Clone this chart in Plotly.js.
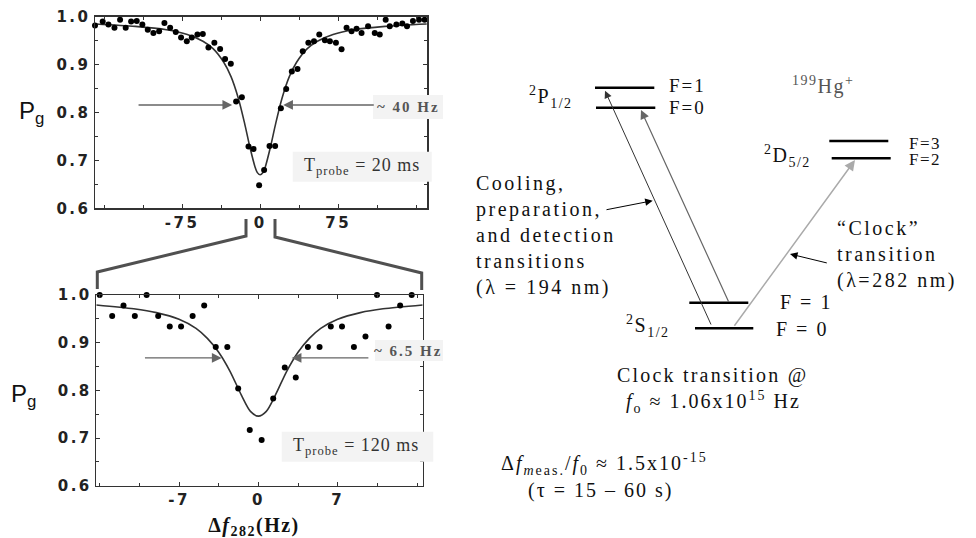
<!DOCTYPE html>
<html>
<head>
<meta charset="utf-8">
<script src="https://cdn.plot.ly/plotly-3.0.1.min.js"></script>
<style>
html,body{margin:0;padding:0;background:#fff;}
#chart{width:976px;height:538px;}
</style>
</head>
<body>
<div id="chart"></div>
<script>
// ---------- data: top panel (T_probe = 20 ms) ----------
const topDetuning = [-158.7,-151.3,-145.8,-140,-134.6,-129.2,-124,-118.6,-113.2,-108,-102.6,-97.1,-92,-86.5,-81.1,-76,-70.5,-65.7,-60.3,-55.1,-49.7,-44,-38.5,-33.7,-28.2,-23.1,-17.6,-11.2,-6.4,-1,3.8,9,14.4,19.9,25,30.4,35.9,40.9,46.3,51.7,56.8,62.2,67,72.8,78.2,83,87.8,92.6,97.4,103.7,110.1,114.9,120.6,124.5,130.9,136.6,141.1,146.8,152.6,158];
const topPg = [0.982,0.990,0.984,0.977,0.994,0.977,0.990,0.991,0.984,0.973,0.966,0.970,0.987,0.977,0.968,0.957,0.949,0.957,0.963,0.964,0.936,0.946,0.933,0.912,0.902,0.823,0.832,0.729,0.724,0.648,0.680,0.730,0.730,0.809,0.849,0.886,0.891,0.928,0.946,0.949,0.963,0.951,0.949,0.946,0.932,0.977,0.970,0.975,0.966,0.980,0.966,0.963,0.994,0.980,0.984,0.986,0.980,0.991,0.994,0.994];
const topFitX = [-158,-120,-90,-70,-55,-45,-35,-28,-21,-15,-10,-5,-2.5,0,2.5,5,10,15,21,28,35,45,55,70,90,120,160];
const topFitY = [0.985,0.980,0.973,0.963,0.949,0.933,0.905,0.875,0.830,0.778,0.729,0.687,0.674,0.670,0.674,0.687,0.729,0.778,0.830,0.875,0.905,0.933,0.949,0.963,0.973,0.980,0.985];
const topTickVals = [-75,0,75];
const topTickText = ['-75','0','75'];

// ---------- data: bottom panel (T_probe = 120 ms) ----------
const botDetuning = [-14.6,-14.0,-12.9,-11.9,-10.9,-9.86,-8.84,-7.82,-6.82,-5.80,-4.78,-3.76,-2.74,-1.78,-0.76,0.29,1.31,2.33,3.30,4.37,5.40,6.39,7.38,8.43,9.45,10.47,11.49,12.51,13.53];
const botPg = [0.949,1.0,0.956,0.978,0.956,1.0,0.956,0.934,0.934,0.956,0.978,0.891,0.891,0.804,0.717,0.696,0.783,0.848,0.827,0.891,0.891,0.934,0.934,0.891,0.913,1.0,0.934,0.978,1.0];
const botFitX = [-14.3,-11,-9,-7,-5.5,-4.5,-3.5,-2.5,-1.5,-0.7,0,0.7,1.5,2.5,3.5,4.5,5.5,7,9,11,14.5];
const botFitY = [0.979,0.971,0.963,0.949,0.930,0.909,0.880,0.840,0.790,0.756,0.746,0.756,0.790,0.840,0.880,0.909,0.930,0.949,0.963,0.971,0.979];
const botTickVals = [-7,0,7];
const botTickText = ['-7','0','7'];

const pgTickVals = [0.6,0.7,0.8,0.9,1.0];
const pgTickText = ['0.6','0.7','0.8','0.9','1.0'];

// ---------- data: 199Hg+ level diagram ----------
const levelNames  = ['2P1/2 F=1','2P1/2 F=0','2D5/2 F=3','2D5/2 F=2','2S1/2 F=1','2S1/2 F=0'];
const levelStart  = [595, 596, 829.3, 831.7, 689.3, 695];
const levelEnd    = [654.3, 655.3, 888.3, 890.7, 748.3, 753.3];
const levelHeight = [87.7, 107.7, 141, 158.3, 302.7, 328.3];

// ---------- build ----------
const SERIF = 'Liberation Serif, Times New Roman, serif';
const SANS = 'Liberation Sans, Arial, sans-serif';
const TICKFONT = {family:'DejaVu Sans, sans-serif', size:15, color:'#222', weight:'bold'};

const lvX = [], lvY = [];
levelNames.forEach((n,i)=>{ lvX.push(levelStart[i], levelEnd[i], null); lvY.push(levelHeight[i], levelHeight[i], null); });

const data = [
  {x: topFitX, y: topFitY, xaxis:'x', yaxis:'y', mode:'lines', line:{color:'#333', width:1.6, shape:'spline', smoothing:0.8}, hoverinfo:'skip'},
  {x: topDetuning, y: topPg, xaxis:'x', yaxis:'y', mode:'markers', marker:{color:'#000', size:6}, cliponaxis:false},
  {x: botFitX, y: botFitY, xaxis:'x2', yaxis:'y2', mode:'lines', line:{color:'#333', width:1.6, shape:'spline', smoothing:0.8}, hoverinfo:'skip'},
  {x: botDetuning, y: botPg, xaxis:'x2', yaxis:'y2', mode:'markers', marker:{color:'#000', size:6}, cliponaxis:false},
  {x: lvX, y: lvY, xaxis:'x3', yaxis:'y3', mode:'lines', line:{color:'#000', width:2.6}, connectgaps:false, text: levelNames, hoverinfo:'text'}
];

const anns = [], annLS = [];
function txt(text, x, y, opts, ls){
  anns.push(Object.assign({xref:'x3', yref:'y3', x:x, y:y, text:text, showarrow:false,
    xanchor:'left', yanchor:'middle', align:'left', borderpad:0,
    font:{family:SERIF, size:20, color:'#111'}}, opts||{}));
  annLS.push(ls||0);
}
function arrowAx(xref, yref, x, y, ax, ay, color, width, size){
  anns.push({xref:xref, yref:yref, axref:xref, ayref:yref, x:x, y:y, ax:ax, ay:ay, text:'',
    showarrow:true, arrowhead:2, arrowsize:size, arrowwidth:width, arrowcolor:color, standoff:0, startstandoff:0});
  annLS.push(0);
}

// FWHM arrows
arrowAx('x','y', -26.9, 0.8158, -118.3, 0.8158, '#666', 1.3, 1.5);
arrowAx('x','y', 22.1, 0.8158, 110.6, 0.8158, '#666', 1.3, 1.5);
arrowAx('x2','y2', -3.24, 0.868, -10.14, 0.868, '#666', 1.3, 1.5);
arrowAx('x2','y2', 2.94, 0.868, 9.84, 0.868, '#666', 1.3, 1.5);

// transition arrows (diagram)
arrowAx('x3','y3', 605, 90.7, 711.7, 326, '#333', 1, 1.5);
arrowAx('x3','y3', 641, 110, 729.3, 303.3, '#666', 1.2, 1.5);
arrowAx('x3','y3', 855, 160, 733.3, 327.3, '#aaa', 1.5, 1.4);
arrowAx('x3','y3', 652.7, 200.7, 605, 210, '#000', 1, 1.5);
arrowAx('x3','y3', 790, 254, 828.3, 263.3, '#000', 1, 1.5);

// plot labels
txt('P<sub>g</sub>', 18, 112, {font:{family:SANS, size:24, color:'#111'}});
txt('P<sub>g</sub>', 10, 395, {font:{family:SANS, size:24, color:'#111'}});
txt('<b>~ 40 Hz</b>', 408, 107, {xanchor:'center', align:'center', font:{family:SERIF, size:15, color:'#555'}}, 2);
txt('T<sub>probe</sub> = 20 ms', 303, 166, {font:{family:SERIF, size:18, color:'#333'}}, 1);
txt('<b>~ 6.5 Hz</b>', 408, 350.5, {xanchor:'center', align:'center', font:{family:SERIF, size:15, color:'#555'}}, 2);
txt('T<sub>probe</sub> = 120 ms', 292, 446.5, {font:{family:SERIF, size:18, color:'#333'}}, 1);
txt('<b>Δ<i>f</i><sub>282</sub>(Hz)</b>', 254, 526, {xanchor:'center', align:'center', font:{family:SERIF, size:20, color:'#111'}}, 1.5);

// diagram labels
txt('<sup>2</sup>P<sub>1/2</sub>', 528, 97, {}, 1.5);
txt('F=1', 668, 85.5, {font:{family:SERIF, size:19, color:'#111'}}, 2);
txt('F=0', 668, 107, {font:{family:SERIF, size:19, color:'#111'}}, 2);
txt('<sup>199</sup>Hg<sup>+</sup>', 791, 85, {font:{family:SERIF, size:20, color:'#555'}}, 1.5);
txt('<sup>2</sup>D<sub>5/2</sub>', 763, 156, {}, 1.5);
txt('F=3', 908, 143.5, {font:{family:SERIF, size:17, color:'#111'}}, 1.5);
txt('F=2', 908, 159.5, {font:{family:SERIF, size:17, color:'#111'}}, 1.5);
txt('Cooling,<br>preparation,<br>and detection<br>transitions<br>(λ = 194 nm)', 475, 235.6, {}, 2.5);
txt('“Clock”<br>transition<br>(λ=282 nm)', 836, 254.3, {}, 2.5);
txt('<sup>2</sup>S<sub>1/2</sub>', 625, 326, {}, 1.5);
txt('F = 1', 779, 301.8, {}, 2);
txt('F = 0', 775, 328.5, {}, 2);
txt('Clock transition @', 616, 375.2, {}, 2.2);
txt('<i>f</i><sub>o</sub> ≈ 1.06x10<sup>15</sup> Hz', 625, 401.8, {}, 2);
txt('Δ<i>f</i><sub><i>m</i>eas.</sub>/<i>f</i><sub>0</sub> ≈ 1.5x10<sup>-15</sup>', 500, 463.5, {}, 2);
txt('(τ = 15 – 60 s)', 527, 490, {}, 2);

// decorative shapes: zoom connectors and label boxes
const shapes = [
  {type:'path', xref:'x3', yref:'y3', path:'M 246 219 L 246 236 L 97.3 272 L 97.3 289', line:{color:'#505050', width:3}, layer:'above'},
  {type:'path', xref:'x3', yref:'y3', path:'M 275 219 L 275 237 L 421.7 273 L 421.7 290', line:{color:'#505050', width:3}, layer:'above'},
  {type:'rect', xref:'x3', yref:'y3', x0:373, x1:443, y0:95, y1:119, fillcolor:'#f3f3f3', line:{width:0}, layer:'above'},
  {type:'rect', xref:'x3', yref:'y3', x0:292.7, x1:431.7, y0:151.7, y1:181.7, fillcolor:'#f3f3f3', line:{width:0}, layer:'above'},
  {type:'rect', xref:'x3', yref:'y3', x0:375, x1:443, y0:340, y1:361, fillcolor:'#f3f3f3', line:{width:0}, layer:'above'},
  {type:'rect', xref:'x3', yref:'y3', x0:281.7, x1:433.3, y0:431.7, y1:461.7, fillcolor:'#f3f3f3', line:{width:0}, layer:'above'}
];

function frameAxis(extra){
  return Object.assign({showgrid:false, zeroline:false, showline:true, mirror:'ticks', linecolor:'#333', linewidth:1.5,
    ticks:'inside', ticklen:4, tickcolor:'#333', tickwidth:1, tickfont:TICKFONT, fixedrange:true}, extra);
}

const layout = {
  width:976, height:538, margin:{l:0,r:0,t:0,b:0}, autosize:false,
  paper_bgcolor:'#fff', plot_bgcolor:'rgba(0,0,0,0)', showlegend:false,
  xaxis: frameAxis({domain:[95/976, 427/976], range:[-158.7,160.3], anchor:'y', tickmode:'array', tickvals:topTickVals, ticktext:topTickText,
    minor:{tickmode:'linear', tick0:0, dtick:37.5, ticks:'inside', ticklen:3, tickcolor:'#333', showgrid:false}}),
  yaxis: frameAxis({domain:[1-208.3/538, 1-16.8/538], range:[0.6,1.0], anchor:'x', tickmode:'array', tickvals:pgTickVals, ticktext:pgTickText,
    minor:{tickmode:'linear', tick0:0.6, dtick:0.05, ticks:'inside', ticklen:3, tickcolor:'#333', showgrid:false}}),
  xaxis2: frameAxis({domain:[96.3/976, 422.7/976], range:[-14.3,14.5], anchor:'y2', tickmode:'array', tickvals:botTickVals, ticktext:botTickText,
    minor:{tickmode:'linear', tick0:0, dtick:3.5, ticks:'inside', ticklen:3, tickcolor:'#333', showgrid:false}}),
  yaxis2: frameAxis({domain:[1-485.7/538, 1-295/538], range:[0.6,1.0], anchor:'x2', tickmode:'array', tickvals:pgTickVals, ticktext:pgTickText,
    minor:{tickmode:'linear', tick0:0.6, dtick:0.05, ticks:'inside', ticklen:3, tickcolor:'#333', showgrid:false}}),
  xaxis3: {domain:[0,1], range:[0,976], anchor:'y3', visible:false, fixedrange:true},
  yaxis3: {domain:[0,1], range:[538,0], anchor:'x3', visible:false, fixedrange:true},
  annotations: anns,
  shapes: shapes
};

const gd = document.getElementById('chart');
Plotly.newPlot(gd, data, layout, {staticPlot:true, displayModeBar:false}).then(function(){
  document.querySelectorAll('.xtick text, .ytick text, .x2tick text, .y2tick text').forEach(function(t){
    t.style.letterSpacing = '2.5px'; t.style.fontWeight = 'bold';
  });
  document.querySelectorAll('g.annotation').forEach(function(g){
    const i = +g.getAttribute('data-index');
    const ls = annLS[i];
    if (ls) g.querySelectorAll('text').forEach(function(t){ t.style.letterSpacing = ls + 'px'; });
  });
});
</script>
</body>
</html>
